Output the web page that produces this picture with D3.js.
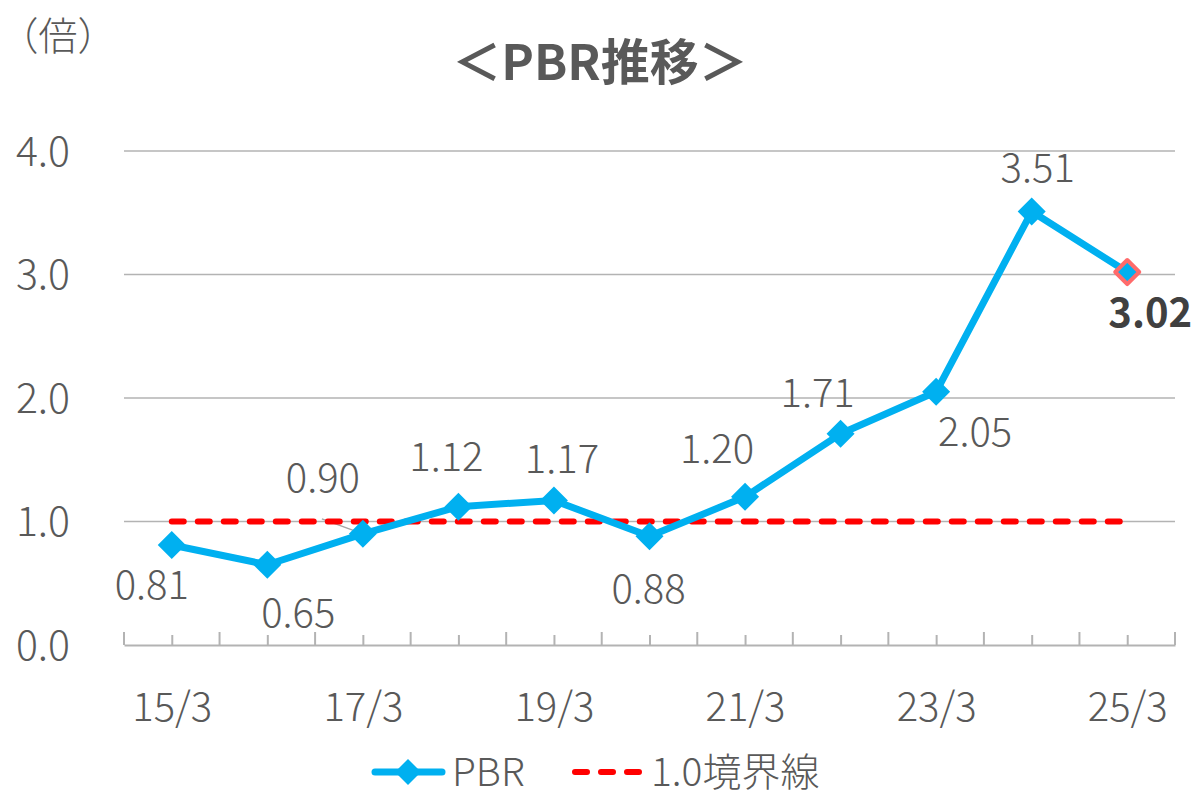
<!DOCTYPE html>
<html>
<head>
<meta charset="utf-8">
<script src="https://cdn.jsdelivr.net/npm/d3@7"></script>
<style>
  body { margin: 0; background: #fff; }
  text { font-family: "Noto Sans CJK JP", "Noto Sans", sans-serif; fill: #595959; }
</style>
</head>
<body>
<div class="canvas"></div>
<script>
// data
const periods = ['15/3','16/3','17/3','18/3','19/3','20/3','21/3','22/3','23/3','24/3','25/3'];
const pbr = [0.81, 0.65, 0.90, 1.12, 1.17, 0.88, 1.20, 1.71, 2.05, 3.51, 3.02];
const boundary = [1.0, 1.0, 1.0, 1.0, 1.0, 1.0, 1.0, 1.0, 1.0, 1.0, 1.0];
const yTicks = [0, 1, 2, 3, 4];

// label offsets from each point (dx, dy)
const labelOffsets = [[-20,40],[31,48],[-40,-56],[-12,-50],[8,-42],[-1,52],[-28,-48],[-23,-41],[39,40],[6,-44],[23,41]];

const dims = { width: 1196, height: 796 };
const plot = { left: 124, right: 1175, top: 151, bottom: 645 };

const svg = d3.select('.canvas')
    .append('svg')
    .attr('width', dims.width)
    .attr('height', dims.height);

const x = d3.scalePoint()
    .domain(periods)
    .range([plot.left, plot.right])
    .padding(0.5);

const y = d3.scaleLinear()
    .domain([0, 4])
    .range([plot.bottom, plot.top]);

const diamond = r => `M0,${-r}L${r},0L0,${r}L${-r},0Z`;

// title + unit
svg.append('text')
    .attr('x', 600).attr('y', 62)
    .attr('text-anchor', 'middle')
    .attr('dy', '0.36em')
    .style('font-size', '49px')
    .style('font-weight', 'bold')
    .text('＜PBR推移＞');

svg.append('text')
    .attr('x', 58).attr('y', 36)
    .attr('text-anchor', 'middle')
    .attr('dy', '0.36em')
    .style('font-size', '39px')
    .style('font-weight', 300)
    .text('（倍）');

// gridlines
svg.append('g')
  .selectAll('line')
  .data(yTicks.filter(d => d > 0))
  .enter().append('line')
    .attr('x1', plot.left).attr('x2', plot.right)
    .attr('y1', d => y(d)).attr('y2', d => y(d))
    .attr('stroke', '#b3b3b3')
    .attr('stroke-width', 1.5);

// y labels
svg.append('g')
  .selectAll('text')
  .data(yTicks)
  .enter().append('text')
    .attr('x', 70)
    .attr('y', d => y(d))
    .attr('dy', '0.36em')
    .attr('text-anchor', 'end')
    .style('font-size', '41px')
    .style('font-weight', 300)
    .text(d => d.toFixed(1));

// x axis: minor ticks at categories, major at boundaries
const xAxis = svg.append('g')
    .attr('transform', `translate(0,${plot.bottom})`)
    .call(d3.axisBottom(x).tickSize(-10).tickSizeOuter(0).tickFormat((d, i) => i % 2 ? '' : d).tickPadding(48));

xAxis.select('.domain').attr('stroke', '#b3b3b3').attr('stroke-width', 2);
xAxis.selectAll('.tick line').attr('stroke', '#b3b3b3').attr('stroke-width', 2);
xAxis.selectAll('.tick text')
    .attr('fill', '#595959')
    .style('font-size', '40px')
    .style('font-weight', 300)
    .style('font-family', '"Noto Sans CJK JP", sans-serif');

const step = x.step();
xAxis.selectAll('.major')
  .data(d3.range(periods.length + 1))
  .enter().append('line')
    .attr('class', 'major')
    .attr('x1', i => plot.left + i * step).attr('x2', i => plot.left + i * step)
    .attr('y1', 0).attr('y2', -13)
    .attr('stroke', '#b3b3b3')
    .attr('stroke-width', 2);

// leader line for 0.90 label
svg.append('line')
    .attr('x1', x(periods[2]) - 41).attr('y1', y(pbr[2]) - 15)
    .attr('x2', x(periods[2])).attr('y2', y(pbr[2]))
    .attr('stroke', '#a6a6a6')
    .attr('stroke-width', 1.5);

// 1.0 boundary line
const line = d3.line()
    .x((d, i) => x(periods[i]))
    .y(d => y(d));

svg.append('path')
    .attr('d', line(boundary))
    .attr('fill', 'none')
    .attr('stroke', '#ff0000')
    .attr('stroke-width', 6)
    .attr('stroke-linecap', 'round')
    .attr('stroke-dasharray', '12 14');

// PBR line
svg.append('path')
    .attr('d', line(pbr))
    .attr('fill', 'none')
    .attr('stroke', '#00b0f0')
    .attr('stroke-width', 7)
    .attr('stroke-linejoin', 'round');

const last = pbr.length - 1;
svg.append('g')
  .selectAll('path')
  .data(pbr)
  .enter().append('path')
    .attr('transform', (d, i) => `translate(${x(periods[i])},${y(d)})`)
    .attr('d', (d, i) => diamond(i === last ? 12 : 14))
    .attr('fill', '#00b0f0')
    .attr('stroke', (d, i) => i === last ? '#ff6b6b' : 'none')
    .attr('stroke-width', 4)
    .attr('stroke-linejoin', 'round');

// data labels
svg.append('g')
  .selectAll('text')
  .data(pbr)
  .enter().append('text')
    .attr('x', (d, i) => x(periods[i]) + labelOffsets[i][0])
    .attr('y', (d, i) => y(d) + labelOffsets[i][1])
    .attr('dy', '0.36em')
    .attr('text-anchor', 'middle')
    .style('font-size', '40px')
    .style('font-weight', (d, i) => i === last ? 'bold' : 300)
    .style('fill', (d, i) => i === last ? '#404040' : '#595959')
    .text(d => d.toFixed(2));

// legend
const legend = svg.append('g').attr('transform', 'translate(0,772)');

legend.append('line')
    .attr('x1', 375).attr('x2', 442)
    .attr('stroke', '#00b0f0').attr('stroke-width', 7).attr('stroke-linecap', 'round');
legend.append('path')
    .attr('transform', 'translate(408,0)')
    .attr('d', diamond(13))
    .attr('fill', '#00b0f0');
legend.append('text')
    .attr('x', 452).attr('dy', '0.36em')
    .style('font-size', '39px').style('font-weight', 300)
    .text('PBR');

legend.append('line')
    .attr('x1', 575).attr('x2', 642)
    .attr('stroke', '#ff0000').attr('stroke-width', 6).attr('stroke-linecap', 'round')
    .attr('stroke-dasharray', '12 14');
legend.append('text')
    .attr('x', 651).attr('dy', '0.36em')
    .style('font-size', '39px').style('font-weight', 300)
    .text('1.0境界線');
</script>
</body>
</html>
